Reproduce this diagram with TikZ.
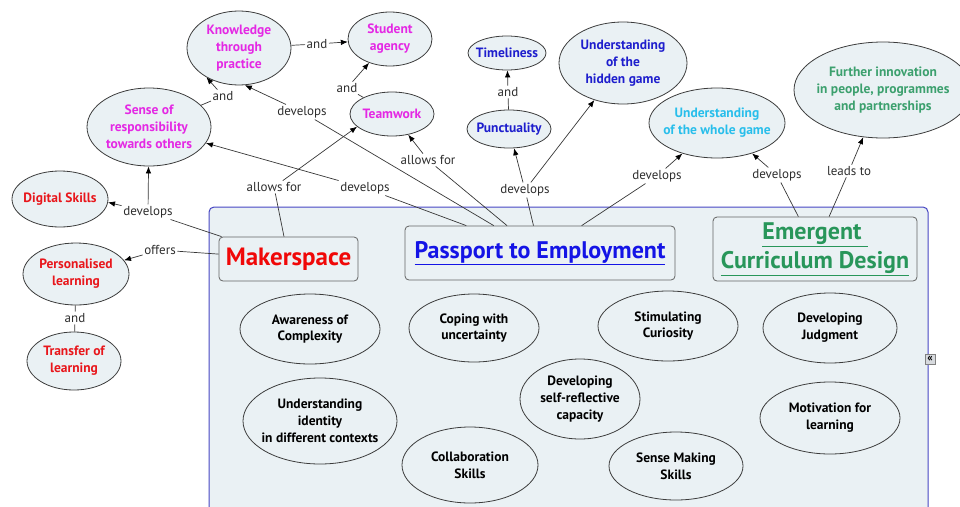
\documentclass[tikz,border=0pt]{standalone}
\usepackage{fontspec}
\setmainfont{PT Sans}
\usetikzlibrary{shapes.geometric,arrows.meta}
\definecolor{nodefill}{RGB}{234,241,244}
\definecolor{edgegray}{RGB}{60,60,60}
\definecolor{boxgray}{RGB}{100,100,100}
\definecolor{contblue}{RGB}{70,70,195}
\definecolor{lblgray}{RGB}{45,45,45}
\definecolor{linegray}{RGB}{55,55,55}
\definecolor{cmag}{RGB}{228,40,228}
\definecolor{cred}{RGB}{232,22,27}
\definecolor{cmred}{RGB}{240,8,8}
\definecolor{cblue}{RGB}{30,30,205}
\definecolor{cpblue}{RGB}{20,20,230}
\definecolor{ccyan}{RGB}{40,190,235}
\definecolor{cgreen}{RGB}{60,160,110}
\definecolor{cegreen}{RGB}{40,150,90}
\definecolor{iconfill}{RGB}{215,218,222}
\begin{document}
\begin{tikzpicture}[x=1pt,y=-1pt,
  ell/.style={ellipse, draw=edgegray, fill=nodefill, line width=0.8pt, inner sep=0pt},
  txtb/.style={font=\bfseries\fontsize{13.5}{16.8}\selectfont, align=center, inner sep=0pt},
  bigbox/.style={rectangle, rounded corners=4pt, draw=boxgray, fill=nodefill, line width=0.8pt, align=center, inner sep=0pt},
  lbl/.style={font=\fontsize{13}{15}\selectfont, text=lblgray, inner sep=1.5pt},
  conn/.style={draw=linegray, line width=0.7pt},
  arr/.style={conn, -{Latex[length=7pt,width=5.5pt,color=black]}}
]
\path[use as bounding box] (0,0) rectangle (960,506);
\clip (0,0) rectangle (960,506);

% container
\draw[draw=contblue, fill=nodefill, rounded corners=5pt, line width=1pt] (209,207) rectangle (928,540);

% big boxes
\node[bigbox, minimum width=139pt, minimum height=44pt, text=cmred, font=\bfseries\fontsize{25}{28}\selectfont] (mk) at (288.5,259)
  {Makerspace};
\node[bigbox, minimum width=270pt, minimum height=54pt, text=cpblue, font=\bfseries\fontsize{24}{28}\selectfont] (pe) at (540,253)
  {\underline{Passport to Employment}};
\node[bigbox, minimum width=204pt, minimum height=64pt, text=cegreen, font=\bfseries\fontsize{24}{29}\selectfont] (ec) at (815,249)
  {\underline{Emergent\ }\\\underline{Curriculum Design}};

% outer ellipses
\node[ell, minimum width=104pt, minimum height=74pt, label={[txtb, text=cmag]center:Knowledge\\through\\practice}] (kn) at (239,48) {};
\node[ell, minimum width=84pt, minimum height=54pt, label={[txtb, text=cmag]center:Student\\agency}] (sa) at (390,39) {};
\node[ell, minimum width=124pt, minimum height=78pt, label={[txtb, text=cmag]center:Sense of\\responsibility\\towards others}] (sr) at (149,127) {};
\node[ell, minimum width=84pt, minimum height=44pt, label={[txtb, text=cmag]center:Teamwork}] (tw) at (392,114) {};
\node[ell, minimum width=96pt, minimum height=56pt, label={[txtb, text=cred]center:Digital Skills}] (ds) at (60,199) {};
\node[ell, minimum width=106pt, minimum height=62pt, label={[txtb, text=cred]center:Personalised\\learning}] (pl) at (76,274) {};
\node[ell, minimum width=94pt, minimum height=58pt, label={[txtb, text=cred]center:Transfer of\\learning}] (tl) at (74,361) {};
\node[ell, minimum width=78pt, minimum height=34pt, label={[txtb, text=cblue]center:Timeliness}] (ti) at (507,53) {};
\node[ell, minimum width=84pt, minimum height=38pt, label={[txtb, text=cblue]center:Punctuality}] (pu) at (509,129) {};
\node[ell, minimum width=128pt, minimum height=82pt, label={[txtb, text=cblue]center:Understanding\\of the\\hidden game}] (hg) at (623,63) {};
\node[ell, minimum width=136pt, minimum height=70pt, label={[txtb, text=ccyan]center:Understanding\\of the whole game}] (wg) at (717,123) {};
\node[ell, minimum width=178pt, minimum height=96pt, label={[txtb, text=cgreen]center:Further innovation\\in people, programmes\\and partnerships}] (fi) at (883,90) {};

% inner ellipses
\node[ell, minimum width=140pt, minimum height=70pt, label={[txtb]center:Awareness of\\Complexity}] (ac) at (310,329) {};
\node[ell, minimum width=130pt, minimum height=68pt, label={[txtb]center:Coping with\\uncertainty}] (cu) at (474,328) {};
\node[ell, minimum width=140pt, minimum height=70pt, label={[txtb]center:Stimulating\\Curiosity}] (sc) at (668,326) {};
\node[ell, minimum width=134pt, minimum height=70pt, label={[txtb]center:Developing\\Judgment}] (dj) at (830,328) {};
\node[ell, minimum width=154pt, minimum height=86pt, label={[txtb]center:Understanding\\identity\\in different contexts}] (ui) at (320,421) {};
\node[ell, minimum width=120pt, minimum height=80pt, label={[txtb]center:Developing\\self-reflective\\capacity}] (dr) at (580,399) {};
\node[ell, minimum width=136pt, minimum height=76pt, label={[txtb]center:Collaboration\\Skills}] (cs) at (470,465) {};
\node[ell, minimum width=134pt, minimum height=68pt, label={[txtb]center:Sense Making\\Skills}] (sm) at (676,466) {};
\node[ell, minimum width=140pt, minimum height=72pt, label={[txtb]center:Motivation for\\learning}] (ml) at (830,418) {};

% small icon
\node[draw=gray, fill=iconfill, inner sep=0pt, minimum size=10pt, font=\bfseries\fontsize{11}{11}\selectfont, text=black] (icon) at (930,359) {«};

% linking phrases
\node[lbl] (l1) at (317,44) {and};
\node[lbl] (l2) at (347,88) {and};
\node[lbl] (l3) at (223,96) {and};
\node[lbl] (l4) at (302,112) {develops};
\node[lbl] (l5) at (365,188) {develops};
\node[lbl] (l6) at (274,187) {allows for};
\node[lbl] (l7) at (428,160) {allows for};
\node[lbl] (l8) at (148,212) {develops};
\node[lbl] (l9) at (160,250) {offers};
\node[lbl] (l10) at (75,318) {and};
\node[lbl] (l11) at (508,92) {and};
\node[lbl] (l12) at (525,190) {develops};
\node[lbl] (l13) at (657,176) {develops};
\node[lbl] (l14) at (777,175) {develops};
\node[lbl] (l15) at (849,171) {leads to};

% connectors
\draw[conn] (kn) -- (l1); \draw[arr] (l1) -- (sa);
\draw[conn] (tw) -- (l2); \draw[arr] (l2) -- (sa);
\draw[conn] (sr) -- (l3); \draw[arr] (l3) -- (kn.222);
\draw[conn] (pe) -- (l4); \draw[arr] (l4) -- (kn.279);
\draw[conn] (pe) -- (l5); \draw[arr] (l5) -- (sr);
\draw[conn] (mk) -- (l6); \draw[arr] (l6) -- (tw.200);
\draw[conn] (pe) -- (l7); \draw[arr] (l7) -- (tw);
\draw[conn] (mk) -- (l8); \draw[arr] (l8) -- (ds.-4); \draw[arr] (l8) -- (sr);
\draw[conn] (mk) -- (l9); \draw[arr] (l9) -- (pl);
\draw[conn] (pl) -- (l10); \draw[conn] (l10) -- (tl);
\draw[conn] (pu) -- (l11); \draw[arr] (l11) -- (ti);
\draw[conn] (pe) -- (l12); \draw[arr] (l12) -- (pu); \draw[arr] (l12) -- (hg);
\draw[conn] (pe) -- (l13); \draw[arr] (l13) -- (wg);
\draw[conn] (ec) -- (l14); \draw[arr] (l14) -- (wg);
\draw[conn] (ec) -- (l15); \draw[arr] (l15) -- (fi);
\end{tikzpicture}
\end{document}
